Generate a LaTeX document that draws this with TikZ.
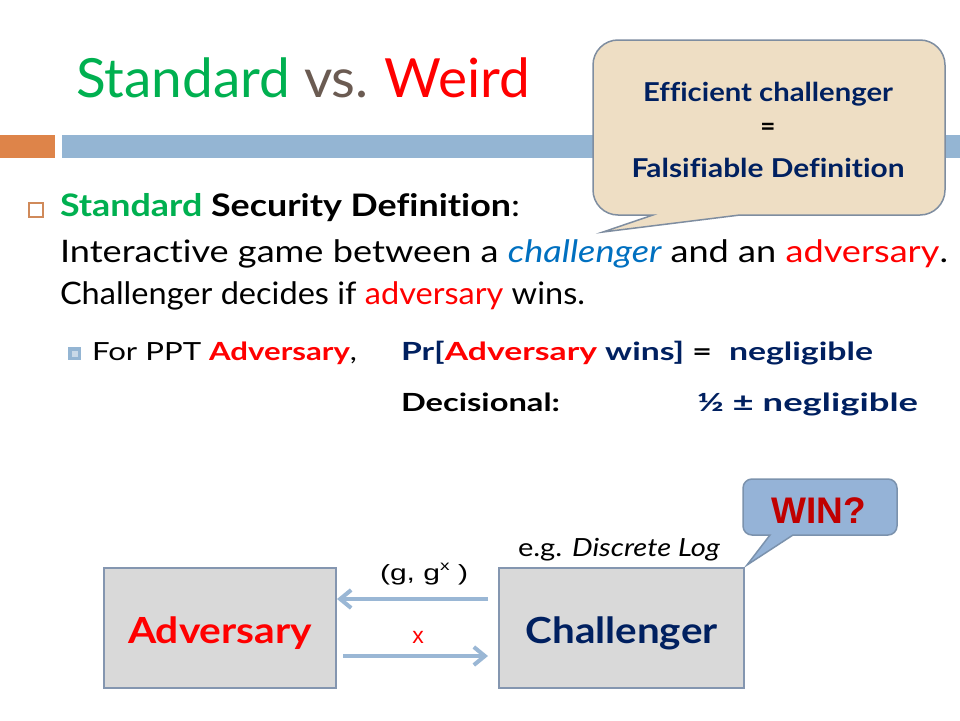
\documentclass[tikz,border=0pt]{standalone}
\usepackage{fontspec}
\setmainfont[Ligatures=NoCommon]{Lato}
\newfontfamily\arialf{Liberation Sans}
\usetikzlibrary{arrows.meta}
\definecolor{tgreen}{HTML}{00B050}
\definecolor{vsgray}{HTML}{6B5B52}
\definecolor{tred}{HTML}{FF0000}
\definecolor{navy}{HTML}{002060}
\definecolor{cblue}{HTML}{0070C0}
\definecolor{barorange}{HTML}{DE8449}
\definecolor{barblue}{HTML}{94B5D3}
\definecolor{subinner}{HTML}{C9D9E8}
\definecolor{bulletor}{HTML}{D08A5A}
\definecolor{callfill}{HTML}{EEDEC4}
\definecolor{callborder}{HTML}{7E8DA0}
\definecolor{boxfill}{HTML}{D9D9D9}
\definecolor{boxborder}{HTML}{8496B0}
\definecolor{arrcol}{HTML}{9AB7D5}
\definecolor{winfill}{HTML}{95B3D7}
\definecolor{winborder}{HTML}{7B92AD}
\definecolor{windark}{HTML}{C00000}
\newcommand\fw[2]{\resizebox{#1pt}{\height}{#2}}
\begin{document}
\begin{tikzpicture}[x=1pt,y=-1pt,
  txt/.style={inner sep=0pt,outer sep=0pt,anchor=base west},
  ctxt/.style={inner sep=0pt,outer sep=0pt,anchor=base},
  gamebox/.style={draw=boxborder,fill=boxfill,line width=2pt,inner sep=0pt,outer sep=0pt},
  arr/.style={draw=arrcol,line width=4pt,-{Straight Barb[length=11pt,width=18pt]}}]
\useasboundingbox[fill=white] (0,0) rectangle (960,720);
% header bars
\fill[barorange] (0,135) rectangle (55,158);
\fill[barblue] (62,135) rectangle (960,158);
% title
\node[txt,font=\fontsize{54}{60}\selectfont] (title) at (76,97)
  {\fw{454}{\textcolor{tgreen}{Standard} \textcolor{vsgray}{vs.}\hspace{-3pt} \textcolor{tred}{Weird}}};
% callout
\filldraw[fill=callfill,draw=callborder,line width=1.5pt]
  (653,215) -- (618,215) arc[start angle=90,end angle=180,radius=25]
  -- (593,65) arc[start angle=180,end angle=270,radius=25]
  -- (920,40) arc[start angle=270,end angle=360,radius=25]
  -- (945,190) arc[start angle=0,end angle=90,radius=25]
  -- (740,215) -- (603,232) -- cycle;
\node[ctxt,font=\bfseries\fontsize{26}{30}\selectfont,text=navy] (c1) at (768,101) {\fw{250}{Efficient challenger}};
\node[ctxt,font=\bfseries\fontsize{26}{30}\selectfont] (c2) at (768,135) {=};
\node[ctxt,font=\bfseries\fontsize{26}{30}\selectfont,text=navy] (c3) at (768,177) {\fw{273}{Falsifiable Definition}};
% bullets
\draw[bulletor,line width=1.2pt] (29,203) rectangle (43,217);
\node[txt,font=\fontsize{31}{36}\selectfont] (l1) at (60,216)
  {\fw{460}{\textbf{\textcolor{tgreen}{Standard} Security Definition}:}};
\node[txt,font=\fontsize{31}{36}\selectfont] (l2) at (60,262)
  {\fw{888}{Interactive game between a \textcolor{cblue}{\itshape challenger} and an \textcolor{tred}{adversary}.}};
\node[txt,font=\fontsize{31}{36}\selectfont] (l3) at (60,304)
  {\fw{525}{Challenger decides if \textcolor{tred}{adversary} wins.}};
\fill[barblue] (68,347) rectangle (81,360);
\fill[subinner] (71.5,350.5) rectangle (77.5,356.5);
\node[txt,font=\fontsize{25}{30}\selectfont] (s1) at (92,360)
  {\fw{265}{For PPT \textcolor{tred}{\bfseries Adversary},}};
\node[txt,font=\bfseries\fontsize{25}{30}\selectfont] (s2) at (401,360)
  {\fw{311}{\textcolor{navy}{Pr[}\textcolor{tred}{Adversary} \textcolor{navy}{wins]} =}};
\node[txt,font=\bfseries\fontsize{25}{30}\selectfont,text=navy] (s3) at (729,360) {\fw{144}{negligible}};
\node[txt,font=\bfseries\fontsize{25}{30}\selectfont] (s4) at (401,411) {\fw{159}{Decisional:}};
\node[txt,font=\bfseries\fontsize{25}{30}\selectfont,text=navy] (s5) at (697,411) {\fw{221}{½ ± negligible}};
% game
\node[gamebox,minimum width=232pt,minimum height=120pt] (adv) at (220,628) {};
\node[gamebox,minimum width=245pt,minimum height=120pt] (chal) at (621.5,628) {};
\node[ctxt,font=\bfseries\fontsize{36}{40}\selectfont,text=tred] (advl) at ([yshift=-15pt]adv.center) {\fw{184}{Adversary}};
\node[ctxt,font=\bfseries\fontsize{36}{40}\selectfont,text=navy] (chall) at ([yshift=-15pt]chal.center) {\fw{192}{Challenger}};
\node[txt,font=\fontsize{25}{30}\selectfont] (eg) at (518,556) {\fw{202}{e.g. \textit{Discrete Log}}};
\draw[arr] ([shift={(-11pt,29pt)}]chal.west) -- ([shift={(1pt,29pt)}]adv.east);
\draw[arr] ([shift={(7pt,-28pt)}]adv.east) -- ([shift={(-11pt,-28pt)}]chal.west);
\node[txt,font=\arialf\fontsize{22}{26}\selectfont] (gl) at (380,580)
  {\fw{88}{(g, g\raisebox{0.45em}{\fontsize{14}{14}\selectfont x} )}};
\node[ctxt,font=\arialf\fontsize{23}{26}\selectfont,text=tred] (xl) at (418,643) {x};
% WIN callout
\filldraw[fill=winfill,draw=winborder,line width=1.5pt]
  (770,535) -- (752,535) arc[start angle=90,end angle=180,radius=9]
  -- (743,488) arc[start angle=180,end angle=270,radius=9]
  -- (888,479) arc[start angle=270,end angle=360,radius=9]
  -- (897,526) arc[start angle=0,end angle=90,radius=9]
  -- (793,535) -- (747,565) -- cycle;
\node[ctxt,font=\arialf\bfseries\fontsize{37}{40}\selectfont,text=windark] (win) at (819,523) {WIN?};
\end{tikzpicture}
\end{document}
